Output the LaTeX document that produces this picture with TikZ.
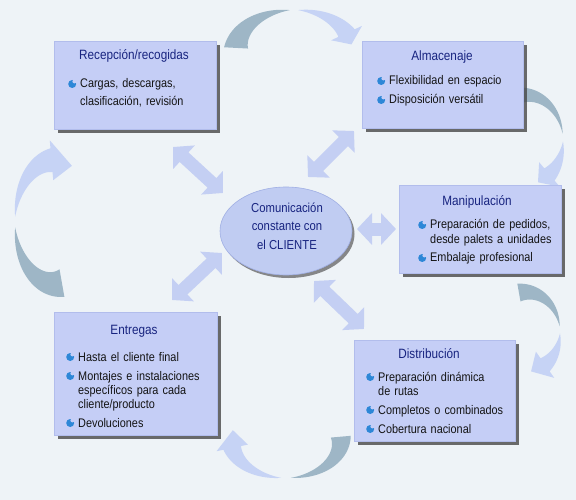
\documentclass[tikz,border=0pt]{standalone}
\usepackage{fontspec}
\setmainfont{Liberation Sans}[FakeStretch=0.87]
\usetikzlibrary{arrows.meta,shapes.geometric,shadows}
\definecolor{bgc}{RGB}{238,243,247}
\definecolor{boxfill}{RGB}{197,206,246}
\definecolor{boxedge}{RGB}{178,189,236}
\definecolor{ttlc}{RGB}{24,36,128}
\definecolor{bulc}{RGB}{45,135,215}
\definecolor{tailc}{RGB}{158,182,198}
\definecolor{headc}{RGB}{198,211,245}
\definecolor{dblc}{RGB}{196,207,243}
\definecolor{txtc}{RGB}{20,20,20}
\definecolor{ellfill}{RGB}{192,204,242}
\definecolor{elledge}{RGB}{160,175,228}
% tail part of a curved arrow: cx cy A B t1 t2 w
\newcommand\tailhorn[7]{%
  \fill[tailc] plot[domain=#5:#6,samples=30,variable=\t]
    ({#1+(#3+0.5*#7*((#6)-(\t))/((#6)-(#5)))*cos(\t)},{#2+(#4+0.5*#7*((#6)-(\t))/((#6)-(#5)))*sin(\t)})
    -- plot[domain=#6:#5,samples=30,variable=\t]
    ({#1+(#3-0.5*#7*((#6)-(\t))/((#6)-(#5)))*cos(\t)},{#2+(#4-0.5*#7*((#6)-(\t))/((#6)-(#5)))*sin(\t)}) -- cycle;}
% head part of a curved arrow: cx cy A B t1 t2 w H t3
\newcommand\headhorn[9]{%
  \fill[headc] plot[domain=#5:#6,samples=30,variable=\t]
    ({#1+(#3+0.5*#7*((\t)-(#5))/((#6)-(#5)))*cos(\t)},{#2+(#4+0.5*#7*((\t)-(#5))/((#6)-(#5)))*sin(\t)})
    -- ({#1+(#3+#8)*cos(#6)},{#2+(#4+#8)*sin(#6)})
    -- ({#1+#3*cos(#9)},{#2+#4*sin(#9)})
    -- ({#1+(#3-#8)*cos(#6)},{#2+(#4-#8)*sin(#6)})
    -- plot[domain=#6:#5,samples=30,variable=\t]
    ({#1+(#3-0.5*#7*((\t)-(#5))/((#6)-(#5)))*cos(\t)},{#2+(#4-0.5*#7*((\t)-(#5))/((#6)-(#5)))*sin(\t)}) -- cycle;}
\newcommand\bul{\tikz[baseline=0pt]{\fill[bulc] (0pt,4pt) circle[radius=4pt]; \fill[boxfill] (2.2pt,6.6pt) circle[radius=2pt];}}
\newcommand\nl{\hfil\break}
\newcommand\itm[1]{\hangindent=12pt\hangafter=1\noindent\makebox[12pt][l]{\bul}#1\par}
\begin{document}
\begin{tikzpicture}[x=1pt,y=-1pt,
  box/.style={draw=boxedge,line width=0.8pt,fill=boxfill,anchor=north west,inner sep=0pt,
    drop shadow={shadow xshift=3.5pt,shadow yshift=-3.5pt,fill=black!72,opacity=0.8}},
  ttl/.style={text=ttlc,font=\fontsize{13.5}{15}\selectfont,anchor=base,inner sep=0pt},
  lst/.style={text=txtc,font=\fontsize{12.5}{14}\selectfont\setlength{\parskip}{5pt},anchor=base west,inner sep=0pt,align=left},
  ell/.style={ellipse,draw=elledge,line width=0.6pt,fill=ellfill,minimum width=132pt,minimum height=88pt,inner sep=0pt,
    drop shadow={shadow xshift=2.5pt,shadow yshift=-3pt,fill=black!65,opacity=0.7}},
  elltx/.style={text=ttlc,font=\fontsize{13}{18.5}\selectfont,align=center,inner sep=0pt},
  dbl/.style={draw=dblc,line width=13pt,{Triangle[length=15pt,width=31pt]}-{Triangle[length=15pt,width=31pt]}}]
\fill[bgc] (0,0) rectangle (576,500);
\useasboundingbox (0,0) rectangle (576,500);
% curved process arrows
\tailhorn{294}{50}{58}{40}{183}{266}{24}
\headhorn{294}{50}{58}{40}{274}{335}{18}{17}{352}
\tailhorn{525}{140}{38}{45}{-100}{-8}{16}
\headhorn{525}{140}{38}{45}{2}{50}{16}{16}{70}
\tailhorn{525}{332}{35}{40}{-100}{-8}{18}
\headhorn{525}{332}{35}{40}{2}{55}{16}{16}{80}
\tailhorn{286}{440}{55}{38}{-5}{85}{20}
\headhorn{286}{440}{55}{38}{95}{168}{18}{16}{195}
\tailhorn{55}{222}{40}{62}{80}{175}{28}
\headhorn{55}{222}{40}{62}{185}{265}{24}{20}{295}
% double arrows
\coordinate (da1) at (173,147); \coordinate (da2) at (223,193);
\coordinate (db1) at (308,177); \coordinate (db2) at (354,131);
\coordinate (dc1) at (357,229); \coordinate (dc2) at (396,229);
\coordinate (dd1) at (314,281); \coordinate (dd2) at (364,329);
\coordinate (de1) at (172,300); \coordinate (de2) at (222,253);
\draw[dbl] (da1) -- (da2);
\draw[dbl] (db1) -- (db2);
\draw[dbl] (dc1) -- (dc2);
\draw[dbl] (dd1) -- (dd2);
\draw[dbl] (de1) -- (de2);
% boxes
\node[box,minimum width=162pt,minimum height=88pt] (rec) at (54,41) {};
\node[box,minimum width=161pt,minimum height=87pt] (alm) at (362,41) {};
\node[box,minimum width=162pt,minimum height=88pt] (man) at (399,185) {};
\node[box,minimum width=161pt,minimum height=101pt] (dis) at (354,340) {};
\node[box,minimum width=163pt,minimum height=123pt] (ent) at (54,312) {};
\node[ell] (cl) at (286,231) {};
\node[elltx] (clt) at (287,226) {Comunicación\\constante con\\el CLIENTE};
% titles
\node[ttl] (rect) at (134,60) {Recepción/recogidas};
\node[ttl] (almt) at (442,61) {Almacenaje};
\node[ttl] (mant) at (477,205) {Manipulación};
\node[ttl] (dist) at (429,358) {Distribución};
\node[ttl] (entt) at (134,334) {Entregas};
% lists
\node[lst,text width=145pt,font=\fontsize{12.5}{18}\selectfont] (recl) at (68,88) {\itm{Cargas, descargas,\nl clasificación, revisión}};
\node[lst,text width=145pt] (alml) at (377,85) {\itm{Flexibilidad en espacio}\itm{Disposición versátil}};
\node[lst,text width=145pt] (manl) at (418,229) {\itm{Preparación de pedidos,\nl desde palets a unidades}\itm{Embalaje profesional}};
\node[lst,text width=145pt] (disl) at (366,381) {\itm{Preparación dinámica\nl de rutas}\itm{Completos o combinados}\itm{Cobertura nacional}};
\node[lst,text width=150pt] (entl) at (66,361) {\itm{Hasta el cliente final}\itm{Montajes e instalaciones\nl específicos para cada\nl cliente/producto}\itm{Devoluciones}};
\end{tikzpicture}
\end{document}
